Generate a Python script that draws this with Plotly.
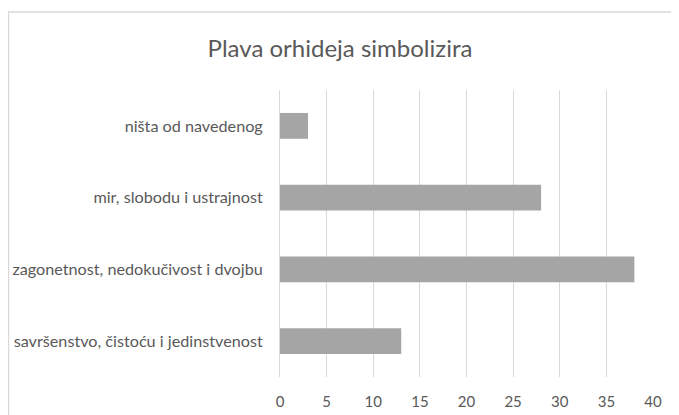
import plotly.graph_objects as go

categories = [
    "savršenstvo, čistoću i jedinstvenost",
    "zagonetnost, nedokučivost i dvojbu",
    "mir, slobodu i ustrajnost",
    "ništa od navedenog",
]
values = [13, 38, 28, 3]
x_ticks = [0, 5, 10, 15, 20, 25, 30, 35, 40]

fig = go.Figure(go.Bar(
    x=values, y=categories, orientation="h",
    marker=dict(color="#a5a5a5", line=dict(width=0)),
    width=0.36,
))

font_family = "Lato, Open Sans, sans-serif"
W, H = 671, 407
fig.update_layout(
    width=W, height=H,
    margin=dict(l=272, r=26, t=82, b=38, autoexpand=False),
    paper_bgcolor="white", plot_bgcolor="white",
    title=dict(text="Plava orhideja simbolizira", x=332 / W, xref="container", y=1 - 41 / H, yref="container",
               xanchor="center", yanchor="middle", font=dict(family=font_family, size=24, color="#595959")),
    xaxis=dict(range=[0, 40], tickvals=x_ticks, showgrid=True, gridcolor="#d9d9d9", gridwidth=1,
               zeroline=False, showline=False, automargin=False,
               tickfont=dict(family=font_family, size=15, color="#595959"), ticklabelstandoff=14),
    yaxis=dict(showgrid=False, zeroline=False, showline=True, linecolor="#d9d9d9", linewidth=1,
               automargin=False,
               tickfont=dict(family=font_family, size=16.2, color="#595959"), ticklabelstandoff=13,
               range=[-0.5, 3.5]),
    showlegend=False,
    shapes=[dict(type="rect", xref="paper", yref="paper", x0=-0.728, x1=1.6, y0=-0.4, y1=1.272,
                 line=dict(color="#d9d9d9", width=1.5), layer="below")],
)

fig.write_html("out.html")
